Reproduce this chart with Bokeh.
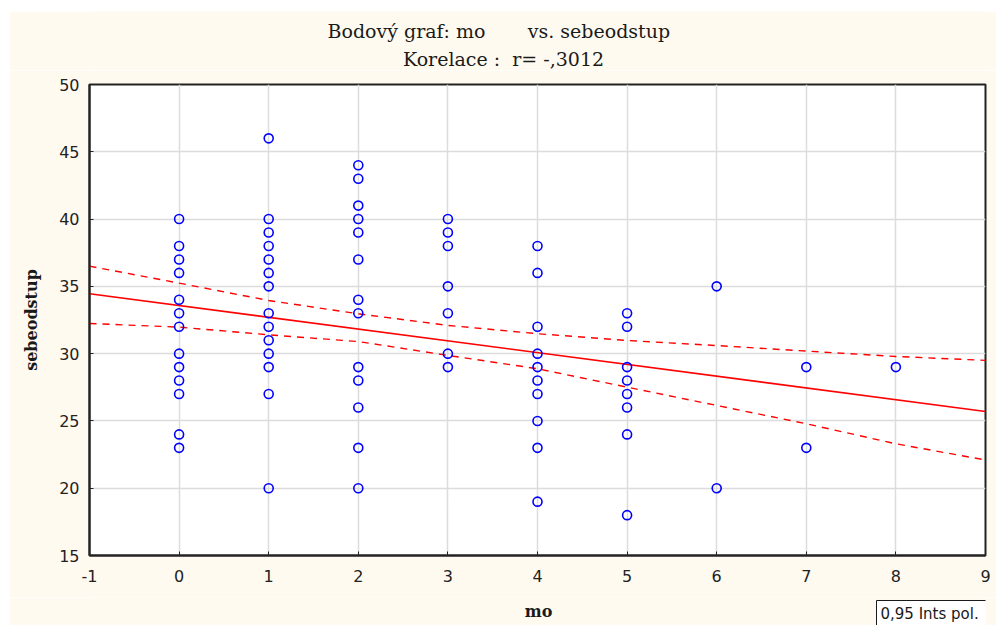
from bokeh.core.properties import value
from bokeh.embed import file_html
from bokeh.layouts import column, row
from bokeh.models import FixedTicker, Range1d, Spacer
from bokeh.plotting import figure
from bokeh.resources import INLINE

# observations: mo (x) and sebeodstup (y)
mo = ([0] * 13 + [1] * 14 + [2] * 13 + [3] * 7 + [4] * 10 + [5] * 8
      + [6] * 2 + [7] * 2 + [8] * 1)
sebeodstup = [
    40, 38, 37, 36, 34, 33, 32, 30, 29, 28, 27, 24, 23,
    46, 40, 39, 38, 37, 36, 35, 33, 32, 31, 30, 29, 27, 20,
    44, 43, 41, 40, 39, 37, 34, 33, 29, 28, 26, 23, 20,
    40, 39, 38, 35, 33, 30, 29,
    38, 36, 32, 30, 29, 28, 27, 25, 23, 19,
    33, 32, 29, 28, 27, 26, 24, 18,
    35, 20,
    29, 23,
    29,
]

# fitted regression line and its 0.95 confidence band
fit_x = [-1, 9]
fit_y = [34.45, 25.7]
band_x = [-1, 0, 1, 2, 3, 4, 5, 6, 7, 8, 9]
band_upper = [36.5, 35.24, 33.95, 32.96, 32.1, 31.48, 30.98, 30.6, 30.19, 29.79, 29.5]
band_lower = [32.24, 31.97, 31.4, 30.9, 29.87, 28.88, 27.51, 26.15, 24.79, 23.3, 22.1]

x_ticks = list(range(-1, 10))
y_ticks = list(range(15, 51, 5))

title_1 = "Bodový graf: mo\u00a0\u00a0\u00a0\u00a0\u00a0\u00a0\u00a0vs. sebeodstup"
title_2 = "Korelace :\u00a0\u00a0r= -,3012"
x_label = "mo"
y_label = "sebeodstup"
legend_text = "0,95 Ints pol."

CREAM = "#FFFAF0"
INK = "#1a1a1a"
TICK_FONT = "DejaVu Sans"
SERIF = "DejaVu Serif"
W = 987
# horizontal extent of the plot frame on the page; the strips share it,
# so their x coordinates are page pixels
FRAME_L, FRAME_R = 89, 985


def strip_figure(height):
    """A cream band above or below the plot, x in page pixels, y in its own pixels."""
    f = figure(
        width=W, height=height,
        x_range=Range1d(FRAME_L, FRAME_R), y_range=Range1d(0, height),
        output_backend="svg", toolbar_location=None,
        x_axis_type=None, y_axis_type=None,
        min_border=0, outline_line_color=None,
        background_fill_color=CREAM, border_fill_color=CREAM,
    )
    f.grid.visible = False
    f.title.visible = False
    return f


# heading: two lines of serif text
TOP_H = 59
top = strip_figure(TOP_H)
top.text(x=[327], y=[TOP_H - 19], text=[title_1], text_font=value(SERIF),
         text_font_size="19px", text_color=INK,
         text_align="left", text_baseline="middle")
top.text(x=[503], y=[TOP_H - 47], text=[title_2], text_font=value(SERIF),
         text_font_size="19px", text_color=INK,
         text_align="center", text_baseline="middle")

# main scatter plot
BOT_H = 28
p = figure(
    width=W, height=614 - TOP_H - BOT_H,
    x_range=Range1d(-1, 9), y_range=Range1d(15, 50),
    output_backend="svg", toolbar_location=None,
    min_border_left=80, min_border_right=11,
    min_border_top=14, min_border_bottom=42,
    background_fill_color="white", border_fill_color=CREAM,
    outline_line_color="#222222", outline_line_width=2,
)
p.title.visible = False

for ax, ticks in ((p.xaxis, x_ticks), (p.yaxis, y_ticks)):
    ax.ticker = FixedTicker(ticks=ticks)
    ax.major_tick_in = 4
    ax.major_tick_out = 0
    ax.minor_tick_line_color = None
    ax.axis_line_color = "#222222"
    ax.axis_line_width = 2
    ax.major_tick_line_color = "#222222"
    ax.major_label_text_font = TICK_FONT
    ax.major_label_text_font_size = "16px"
    ax.major_label_text_color = "#222222"
p.xaxis.major_label_overrides = {-1: "-1"}
p.xaxis.major_label_standoff = 14
p.yaxis.major_label_standoff = 10
p.yaxis.axis_label = y_label
p.yaxis.axis_label_text_font = SERIF
p.yaxis.axis_label_text_font_size = "16px"
p.yaxis.axis_label_text_font_style = "bold"
p.yaxis.axis_label_text_color = INK
p.yaxis.axis_label_standoff = 15

p.xgrid.ticker = FixedTicker(ticks=x_ticks)
p.ygrid.ticker = FixedTicker(ticks=y_ticks)
p.grid.grid_line_color = "#dcdcdc"
p.grid.grid_line_width = 1.5

# regression line and confidence band
p.line(fit_x, fit_y, line_color="red", line_width=1.6)
p.line(band_x, band_upper, line_color="red", line_width=1.4, line_dash="7 6")
p.line(band_x, band_lower, line_color="red", line_width=1.4, line_dash="7 6")

# observations
p.scatter(mo, sebeodstup, marker="circle", size=9, fill_color=None,
          line_color="#0000FF", line_width=1.6)

# bottom strip: x-axis caption and the boxed note on the confidence band
bottom = strip_figure(BOT_H)
bottom.text(x=[538], y=[14], text=[x_label], text_font=value(SERIF),
            text_font_size="16px", text_font_style="bold", text_color=INK,
            text_align="center", text_baseline="middle")
bottom.quad(left=[876], right=[FRAME_R + 10], top=[25], bottom=[-5],
            fill_color="white", line_color=INK, line_width=1)
bottom.text(x=[880], y=[12], text=[legend_text], text_font=value(TICK_FONT),
            text_font_size="15px", text_color=INK,
            text_align="left", text_baseline="middle")

layout = row(Spacer(width=9),
             column(Spacer(height=11), top, p, bottom, spacing=0),
             spacing=0)

open("out.html", "w").write(file_html(layout, INLINE))
